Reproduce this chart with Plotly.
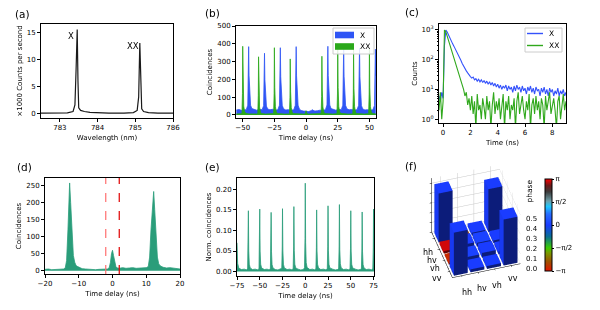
import math
import plotly.graph_objects as go

FONT = "DejaVu Sans"
W, H = 600, 310

# ---------------- (a) emission spectrum ----------------
a_wavelength = [782.5, 783.0, 783.2, 783.35, 783.40, 783.43, 783.46, 783.48, 783.50, 783.55,
                783.65, 783.8, 784.0, 784.3, 784.7, 784.95, 785.05, 785.09, 785.12, 785.14,
                785.17, 785.22, 785.35, 785.6, 786.0]
a_counts = [0.0, 0.0, 0.05, 0.3, 1.5, 8.0, 15.5, 6.0, 1.0, 0.5,
            0.3, 0.15, 0.05, 0.0, 0.0, 0.1, 0.5, 3.0, 13.0, 5.0,
            0.8, 0.3, 0.1, 0.0, 0.0]
a_labels = ["X", "XX"]
a_label_x = [783.3, 784.95]
a_label_y = [14.2, 12.4]

# ---------------- (b) correlation histograms ----------------
b_x_delay = [-55.0, -53.0, -51.0, -49.0,
             -47.2, -46.0, -45.6, -45.3, -45.0, -44.5, -43.8, -42.8,
             -41.0, -39.0, -37.0, -35.0,
             -34.7, -33.5, -33.1, -32.8, -32.5, -32.0, -31.3, -30.3,
             -28.5, -26.5, -24.0, -22.5,
             -22.2, -21.0, -20.6, -20.3, -20.0, -19.5, -18.8, -17.8,
             -16.0, -14.0, -12.0, -10.0,
             -9.7, -8.5, -8.1, -7.8, -7.5, -7.0, -6.3, -5.3,
             -4.0, -2.0, 0.0, 2.0, 4.0, 4.7, 5.5, 7.0, 9.0, 11.0, 13.0, 14.8,
             15.3, 16.5, 16.9, 17.2, 17.5, 18.0, 18.7, 19.7,
             21.5, 23.5, 25.5, 27.5,
             27.8, 29.0, 29.4, 29.7, 30.0, 30.5, 31.2, 32.2,
             34.0, 36.0, 38.0, 40.0,
             40.3, 41.5, 41.9, 42.2, 42.5, 43.0, 43.7, 44.7,
             46.5, 48.5, 50.5, 52.5,
             52.8, 54.0, 54.4, 54.7, 55.0]
b_x_coinc = [28, 31, 26, 30,
             30, 55, 160, 384, 220, 100, 55, 36,
             30, 27, 31, 28,
             30, 52, 150, 347, 200, 92, 50, 34,
             29, 32, 27, 30,
             31, 55, 160, 378, 215, 98, 54, 35,
             28, 30, 26, 29,
             30, 54, 160, 384, 220, 100, 55, 34,
             25, 22, 20, 19, 24, 30, 26, 22, 24, 27, 25, 27,
             30, 56, 165, 386, 222, 100, 56, 36,
             30, 27, 31, 28,
             30, 55, 160, 380, 218, 98, 54, 35,
             29, 31, 27, 30,
             31, 54, 158, 375, 215, 97, 53, 34,
             28, 30, 27, 29,
             30, 53, 155, 370, 220]
b_xx_delay = [-55.0, -53.0, -51.5,
              -50.6, -50.2, -50.0, -49.7, -49.2, -48.5, -47.5,
              -45.0, -42.0, -39.0,
              -38.1, -37.7, -37.5, -37.2, -36.7, -36.0, -35.0,
              -32.0, -29.0, -26.5,
              -25.6, -25.2, -25.0, -24.7, -24.2, -23.5, -22.5,
              -20.0, -17.0, -14.0,
              -13.1, -12.7, -12.5, -12.2, -11.7, -11.0, -10.0,
              -7.0, -4.0, -1.5,
              -0.5, 0.0, 0.5,
              2.0, 5.0, 8.0, 11.0,
              11.9, 12.3, 12.5, 12.8, 13.3, 14.0, 15.0,
              18.0, 21.0, 23.5,
              24.4, 24.8, 25.0, 25.3, 25.8, 26.5, 27.5,
              30.0, 33.0, 36.0,
              36.9, 37.3, 37.5, 37.8, 38.3, 39.0, 40.0,
              43.0, 46.0, 48.5,
              49.4, 49.8, 50.0, 50.3, 50.8, 51.5, 52.5,
              54.0, 55.0]
b_xx_coinc = [6, 5, 7,
              8, 120, 386, 160, 50, 18, 9,
              6, 5, 6,
              8, 110, 327, 140, 45, 16, 8,
              5, 6, 7,
              8, 120, 378, 155, 48, 17, 8,
              6, 5, 6,
              7, 100, 315, 130, 42, 15, 8,
              5, 6, 5,
              8, 24, 9,
              5, 6, 5, 6,
              8, 105, 330, 140, 45, 16, 8,
              6, 5, 7,
              8, 118, 375, 155, 48, 17, 9,
              6, 5, 6,
              8, 115, 365, 150, 47, 16, 8,
              6, 5, 7,
              8, 117, 372, 153, 47, 17, 8,
              6, 6]
b_legend = ["X", "XX"]

# ---------------- (c) lifetime traces ----------------
c_time = [-0.3, -0.2, -0.1, 0.0,
          0.1, 0.2, 0.3, 0.4, 0.5, 0.6, 0.7, 0.8, 0.9, 1.0,
          1.1, 1.2, 1.3, 1.4, 1.5, 1.6, 1.7, 1.8, 1.9, 2.0,
          2.1, 2.2, 2.3, 2.4, 2.5, 2.6, 2.7, 2.8, 2.9, 3.0,
          3.1, 3.2, 3.3, 3.4, 3.5, 3.6, 3.7, 3.8, 3.9, 4.0,
          4.1, 4.2, 4.3, 4.4, 4.5, 4.6, 4.7, 4.8, 4.9, 5.0,
          5.1, 5.2, 5.3, 5.4, 5.5, 5.6, 5.7, 5.8, 5.9, 6.0,
          6.1, 6.2, 6.3, 6.4, 6.5, 6.6, 6.7, 6.8, 6.9, 7.0,
          7.1, 7.2, 7.3, 7.4, 7.5, 7.6, 7.7, 7.8, 7.9, 8.0,
          8.1, 8.2, 8.3, 8.4, 8.5, 8.6, 8.7, 8.8, 8.9, 9.0]
c_x_counts = [6, 4, 8, 5,
              300, 1000, 850, 650, 520, 420, 340, 280, 230, 190,
              150, 120, 95, 75, 60, 50, 42, 36, 30, 27,
              24, 26, 21, 23, 19, 22, 18, 21, 17, 20,
              16, 19, 15, 18, 14, 17, 13, 16, 12, 15,
              11, 14, 10, 13, 11, 14, 9, 13, 10, 12,
              8, 13, 9, 14, 10, 12, 8, 13, 9, 11,
              7, 12, 9, 13, 8, 11, 7, 12, 9, 10,
              6, 11, 8, 12, 7, 10, 6, 11, 8, 10,
              6, 9, 7, 11, 6, 9, 7, 10, 6, 8]
c_xx_counts = [2, 8, 1, 4,
               1000, 850, 620, 440, 310, 220, 160, 115, 80, 58,
               40, 28, 20, 14, 10, 6, 8, 3, 5, 2,
               6, 1.5, 4, 0.5, 7, 2, 3, 1, 5, 2.5,
               1, 6, 2, 4, 0.5, 3, 8, 1.5, 4, 2,
               5, 1, 3, 7, 0.5, 4, 2, 6, 1, 3,
               2, 5, 0.5, 4, 8, 1.5, 3, 6, 2, 1,
               4, 2, 7, 0.5, 3, 5, 1.5, 6, 2, 4,
               1, 5, 3, 0.5, 6, 2, 4, 8, 1.5, 3,
               5, 2, 0.5, 4, 6, 1, 3, 7, 2, 4]
c_legend = ["X", "XX"]

# ---------------- (d) cross-correlation ----------------
d_delay = [-20, -19, -18, -17, -16, -15,
           -14.5, -14.0, -13.6, -13.2, -12.9, -12.7, -12.4, -12.0, -11.6, -11.2, -10.8, -10.3,
           -9.5, -9, -8, -7, -6, -5, -4, -3, -2,
           -1.5, -1.0, -0.6, -0.3, 0.0, 0.3, 0.6, 1.0, 1.4, 2.0,
           3, 4, 5, 6, 7, 8, 9, 10,
           10.6, 11.0, 11.4, 11.8, 12.0, 12.2, 12.5, 12.9, 13.3, 13.7, 14.2,
           15, 16, 17, 18, 19, 20]
d_coinc = [4, 5, 3, 4, 5, 4,
           5, 8, 30, 120, 210, 258, 200, 100, 45, 25, 15, 12,
           9, 6, 5, 4, 5, 3, 4, 4, 5,
           5, 8, 25, 50, 60, 45, 25, 12, 8, 7,
           9, 7, 8, 9, 7, 8, 7, 9,
           12, 40, 120, 190, 225, 233, 180, 90, 40, 20, 14,
           10, 8, 9, 7, 6, 5]
d_window = [-2, 2]
d_window_colors = ["#ff6f6f", "#e00000"]

# ---------------- (e) normalized coincidences ----------------
e_delay = [-75.0, -74.3, -73, -70, -67, -64.5,
           -63.3, -62.8, -62.5, -62.1, -61.5, -60.5, -58, -55, -52,
           -50.8, -50.3, -50.0, -49.6, -49.0, -48.0, -45, -42, -39.5,
           -38.3, -37.8, -37.5, -37.1, -36.5, -35.5, -33, -30, -27,
           -25.8, -25.3, -25.0, -24.6, -24.0, -23.0, -20, -17, -14.5,
           -13.3, -12.8, -12.5, -12.1, -11.5, -10.5, -8, -5, -2,
           -0.8, -0.3, 0.0, 0.4, 1.0, 2.0, 5, 8, 10.5,
           11.7, 12.2, 12.5, 12.9, 13.5, 14.5, 17, 20, 23,
           24.2, 24.7, 25.0, 25.4, 26.0, 27.0, 30, 33, 35.5,
           36.7, 37.2, 37.5, 37.9, 38.5, 39.5, 42, 45, 48,
           49.2, 49.7, 50.0, 50.4, 51.0, 52.0, 55, 58, 60.5,
           61.7, 62.2, 62.5, 62.9, 63.5, 64.5, 67, 70, 73,
           74.2, 74.7, 75.0, 75.5]
e_norm = [0.07, 0.02, 0.008, 0.005, 0.006, 0.004,
          0.008, 0.06, 0.148, 0.05, 0.018, 0.009, 0.005, 0.006, 0.004,
          0.008, 0.06, 0.152, 0.05, 0.018, 0.009, 0.005, 0.006, 0.004,
          0.008, 0.055, 0.144, 0.048, 0.017, 0.009, 0.005, 0.004, 0.006,
          0.008, 0.06, 0.153, 0.05, 0.018, 0.009, 0.005, 0.006, 0.004,
          0.008, 0.06, 0.158, 0.052, 0.018, 0.009, 0.006, 0.004, 0.005,
          0.01, 0.08, 0.215, 0.07, 0.022, 0.01, 0.005, 0.006, 0.004,
          0.008, 0.058, 0.150, 0.05, 0.018, 0.009, 0.005, 0.006, 0.004,
          0.008, 0.062, 0.160, 0.052, 0.018, 0.009, 0.006, 0.004, 0.005,
          0.008, 0.062, 0.163, 0.053, 0.019, 0.009, 0.005, 0.006, 0.004,
          0.008, 0.057, 0.148, 0.05, 0.018, 0.009, 0.006, 0.004, 0.005,
          0.008, 0.055, 0.145, 0.048, 0.017, 0.009, 0.005, 0.006, 0.004,
          0.008, 0.058, 0.152, 0.05]

# ---------------- (f) density matrix ----------------
f_basis = ["hh", "hv", "vh", "vv"]
f_abs = [[0.50, 0.03, 0.03, 0.44],
         [0.025, 0.05, 0.04, 0.03],
         [0.015, 0.04, 0.05, 0.03],
         [0.44, 0.03, 0.03, 0.47]]
f_phase = [[0.0, -2.6, 0.0, 0.0],
           [3.0, 0.0, 0.1, 0.0],
           [-2.9, 0.1, 0.0, 0.0],
           [0.0, 0.0, 0.0, 0.0]]
f_zticks = [0.0, 0.1, 0.2, 0.3, 0.4, 0.5]

BLUE = "#2f55f5"
GREEN = "#2aa81a"
TEAL = "#2a9d7a"
LBLUE = "#3452fb"
LGREEN = "#30a81c"

phase_stops = [(0.00, (228, 20, 0)), (0.10, (160, 80, 0)), (0.20, (120, 155, 0)),
               (0.25, (60, 205, 0)), (0.375, (10, 110, 150)), (0.50, (26, 60, 255)),
               (0.62, (40, 110, 255)), (0.70, (30, 200, 255)), (0.76, (110, 160, 170)),
               (0.86, (60, 60, 60)), (0.93, (110, 25, 25)), (1.00, (255, 0, 0))]
phase_scale = [[s, "rgb(%d,%d,%d)" % c] for s, c in phase_stops]


def phase_rgb(ph, shade):
    f = (ph + math.pi) / (2 * math.pi)
    f = min(max(f, 0.0), 1.0)
    c = phase_stops[-1][1]
    for (s0, c0), (s1, c1) in zip(phase_stops[:-1], phase_stops[1:]):
        if s0 <= f <= s1:
            t = (f - s0) / (s1 - s0) if s1 > s0 else 0
            c = [c0[k] + t * (c1[k] - c0[k]) for k in range(3)]
            break
    return "rgb(%d,%d,%d)" % tuple(int(v * shade) for v in c)


def axis(domain, anchor, **kw):
    d = dict(domain=domain, anchor=anchor, showline=True, mirror=True, linecolor="black",
             linewidth=1, ticks="outside", ticklen=3, tickwidth=1, tickcolor="black",
             showgrid=False, zeroline=False, automargin=False,
             tickfont=dict(size=7, color="black", family=FONT))
    d.update(kw)
    return d


def xd(px0, px1):
    return [px0 / W, px1 / W]


def yd(py_top, py_bot):
    return [1 - py_bot / H, 1 - py_top / H]


def ttl(text):
    return dict(text=text, font=dict(size=7, color="black", family=FONT), standoff=3)


def px_x(v):
    return v / W


def px_y(v):
    return 1 - v / H


fig = go.Figure()

# (a)
fig.add_trace(go.Scatter(x=a_wavelength, y=a_counts, mode="lines", line=dict(color="#1a1a1a", width=1.2),
                         xaxis="x", yaxis="y", showlegend=False))
# (b)
fig.add_trace(go.Scatter(x=b_x_delay, y=b_x_coinc, mode="lines", fill="tozeroy", fillcolor=BLUE,
                         line=dict(color=BLUE, width=0.8), name=b_legend[0], xaxis="x2", yaxis="y2",
                         showlegend=False))
fig.add_trace(go.Scatter(x=b_xx_delay, y=b_xx_coinc, mode="lines", fill="tozeroy", fillcolor=GREEN,
                         line=dict(color=GREEN, width=0.8), name=b_legend[1], xaxis="x2", yaxis="y2",
                         showlegend=False))
# (c)
fig.add_trace(go.Scatter(x=c_time, y=c_x_counts, mode="lines", line=dict(color=LBLUE, width=1.1),
                         name=c_legend[0], xaxis="x3", yaxis="y3", showlegend=False))
fig.add_trace(go.Scatter(x=c_time, y=c_xx_counts, mode="lines", line=dict(color=LGREEN, width=1.1),
                         name=c_legend[1], xaxis="x3", yaxis="y3", showlegend=False))
# (d)
fig.add_trace(go.Scatter(x=d_delay, y=d_coinc, mode="lines", fill="tozeroy", fillcolor=TEAL,
                         line=dict(color=TEAL, width=0.8), xaxis="x4", yaxis="y4", showlegend=False))
# (e)
fig.add_trace(go.Scatter(x=e_delay, y=e_norm, mode="lines", fill="tozeroy", fillcolor=TEAL,
                         line=dict(color=TEAL, width=0.8), xaxis="x5", yaxis="y5", showlegend=False))

# (f) 3D bars
vx, vy, vz, ii, jj, kk, fc = [], [], [], [], [], [], []
hw = 0.42
for r in range(4):
    for c in range(4):
        h = f_abs[r][c]
        ph = f_phase[r][c]
        x0, x1 = c - hw, c + hw
        yc = 3 - r
        y0, y1 = yc - hw, yc + hw
        b = len(vx)
        pts = [(x0, y0, 0), (x1, y0, 0), (x1, y1, 0), (x0, y1, 0),
               (x0, y0, h), (x1, y0, h), (x1, y1, h), (x0, y1, h)]
        for p in pts:
            vx.append(p[0]); vy.append(p[1]); vz.append(p[2])
        faces = [((0, 1, 2), 0.5), ((0, 2, 3), 0.5),
                 ((4, 5, 6), 1.0), ((4, 6, 7), 1.0),
                 ((0, 1, 5), 0.48), ((0, 5, 4), 0.48),
                 ((3, 2, 6), 0.6), ((3, 6, 7), 0.6),
                 ((0, 3, 7), 0.95), ((0, 7, 4), 0.95),
                 ((1, 2, 6), 0.6), ((1, 6, 5), 0.6)]
        for (a, bb, cc), s in faces:
            ii.append(b + a); jj.append(b + bb); kk.append(b + cc)
            fc.append(phase_rgb(ph, s))

fig.add_trace(go.Mesh3d(x=vx, y=vy, z=vz, i=ii, j=jj, k=kk, facecolor=fc, flatshading=True,
                        lighting=dict(ambient=1.0, diffuse=0.0, specular=0.0, roughness=1.0, fresnel=0.0),
                        hoverinfo="skip", showscale=False, scene="scene"))
fig.add_trace(go.Scatter3d(x=[0], y=[3], z=[0.2], mode="markers", scene="scene", showlegend=False,
                           hoverinfo="skip",
                           marker=dict(size=1, color=[0], colorscale=phase_scale, cmin=-math.pi, cmax=math.pi,
                                       showscale=True,
                                       colorbar=dict(x=545 / W, xanchor="left", y=1 - 225 / H, yanchor="middle",
                                                     len=92 / H, lenmode="fraction", thickness=7,
                                                     xpad=0, ypad=0,
                                                     outlinewidth=1, outlinecolor="black",
                                                     tickvals=[-math.pi, -math.pi / 2, 0, math.pi / 2, math.pi],
                                                     ticktext=["−π", "−π/2", "0", "π/2", "π"],
                                                     ticks="outside", ticklen=2, tickcolor="black",
                                                     tickfont=dict(size=7, color="black", family=FONT)))))

scene_ax = dict(showbackground=False, gridcolor="#c8c8c8", gridwidth=1, showline=True, linecolor="black",
                ticks="outside", ticklen=2, tickcolor="black", zeroline=False, showspikes=False,
                showticklabels=False, title=dict(text=""))

th, ph_el, dist = math.radians(17), math.radians(42), 2.05
eye = dict(x=-dist * math.cos(ph_el) * math.sin(th), y=-dist * math.cos(ph_el) * math.cos(th),
           z=dist * math.sin(ph_el))
box_scale = 1.03

layout = dict(
    width=W, height=H, margin=dict(l=0, r=0, t=0, b=0, autoexpand=False),
    paper_bgcolor="white", plot_bgcolor="white",
    font=dict(family=FONT, size=7, color="black"),
    xaxis=axis(xd(41, 173), "y", range=[782.5, 786], tickvals=[783, 784, 785, 786], title=ttl("Wavelength (nm)")),
    yaxis=axis(yd(24, 118), "x", range=[-0.9, 16.5], tickvals=[0, 5, 10, 15], title=ttl("×1000 Counts per second")),
    xaxis2=axis(xd(236, 376), "y2", range=[-55.3, 55.2], tickvals=[-50, -25, 0, 25, 50], title=ttl("Time delay (ns)")),
    yaxis2=axis(yd(26, 118), "x2", range=[-17, 500], tickvals=[0, 100, 200, 300, 400, 500], title=ttl("Coincidences")),
    xaxis3=axis(xd(439, 566), "y3", range=[-0.3, 9.0], tickvals=[0, 2, 4, 6, 8], title=ttl("Time (ns)")),
    yaxis3=axis(yd(24, 123), "x3", type="log", range=[-0.13, 3.2], tickvals=[1, 10, 100, 1000],
                ticktext=["10<sup>0</sup>", "10<sup>1</sup>", "10<sup>2</sup>", "10<sup>3</sup>"],
                minor=dict(ticks="outside", ticklen=1.5, tickcolor="black",
                           tickvals=[2, 3, 4, 5, 6, 7, 8, 9, 20, 30, 40, 50, 60, 70, 80, 90,
                                     200, 300, 400, 500, 600, 700, 800, 900]),
                title=ttl("Counts")),
    xaxis4=axis(xd(45, 180), "y4", range=[-20, 20], tickvals=[-20, -10, 0, 10, 20], title=ttl("Time delay (ns)")),
    yaxis4=axis(yd(178, 274), "x4", range=[-9.7, 272.6], tickvals=[0, 50, 100, 150, 200, 250], title=ttl("Coincidences")),
    xaxis5=axis(xd(237, 374), "y5", range=[-75, 75.5], tickvals=[-75, -50, -25, 0, 25, 50, 75], title=ttl("Time delay (ns)")),
    yaxis5=axis(yd(178, 276), "x5", range=[-0.0107, 0.2276], tickvals=[0, 0.05, 0.1, 0.15, 0.2], tickformat=".2f",
                title=ttl("Norm. coincidences")),
    scene=dict(domain=dict(x=[413 / W, 539 / W], y=[1 - 290 / H, 1 - 152 / H]),
               xaxis=dict(scene_ax, tickvals=[0, 1, 2, 3], range=[-0.55, 3.55]),
               yaxis=dict(scene_ax, tickvals=[3, 2, 1, 0], range=[-0.55, 3.55]),
               zaxis=dict(scene_ax, tickvals=f_zticks, range=[0, 0.55]),
               aspectmode="manual",
               aspectratio=dict(x=box_scale, y=box_scale, z=1.02 * box_scale),
               camera=dict(eye=eye, center=dict(x=0, y=0, z=0), projection=dict(type="orthographic"))),
    showlegend=False,
)
fig.update_layout(**layout)

annots = []
shapes = []
for lbl, px, py in [("(a)", 13, 14), ("(b)", 203, 13), ("(c)", 403, 12),
                    ("(d)", 15, 167), ("(e)", 203, 167), ("(f)", 403, 166)]:
    annots.append(dict(text=lbl, x=px_x(px), y=px_y(py), xref="paper", yref="paper", xanchor="left",
                       yanchor="middle", showarrow=False, font=dict(size=10.5, family=FONT, color="black")))
for t, x, y in zip(a_labels, a_label_x, a_label_y):
    annots.append(dict(text=t, x=x, y=y, xref="x", yref="y", showarrow=False, xanchor="center",
                       yanchor="middle", font=dict(size=8.5, family=FONT, color="black")))
annots.append(dict(text="phase", x=px_x(535), y=px_y(191), xref="paper", yref="paper", textangle=-90,
                   showarrow=False, font=dict(size=7.5, family=FONT, color="black")))

# legend (b): filled patches
shapes.append(dict(type="rect", xref="paper", yref="paper", x0=px_x(333), x1=px_x(374), y0=px_y(54), y1=px_y(28),
                   fillcolor="rgba(255,255,255,0.85)", line=dict(color="#cccccc", width=1), layer="above"))
for name, col, py in zip(b_legend, [BLUE, GREEN], [35, 46.5]):
    shapes.append(dict(type="rect", xref="paper", yref="paper", x0=px_x(335), x1=px_x(354),
                       y0=px_y(py + 3.3), y1=px_y(py - 3.3), fillcolor=col, line=dict(width=0), layer="above"))
    annots.append(dict(text=name, x=px_x(358), y=px_y(py), xref="paper", yref="paper", xanchor="left",
                       yanchor="middle", showarrow=False, font=dict(size=7.5, family=FONT, color="black")))
# legend (c): lines
shapes.append(dict(type="rect", xref="paper", yref="paper", x0=px_x(525), x1=px_x(562), y0=px_y(52), y1=px_y(28),
                   fillcolor="rgba(255,255,255,0.85)", line=dict(color="#cccccc", width=1), layer="above"))
for name, col, py in zip(c_legend, [LBLUE, LGREEN], [33.5, 45.5]):
    shapes.append(dict(type="line", xref="paper", yref="paper", x0=px_x(527), x1=px_x(543),
                       y0=px_y(py), y1=px_y(py), line=dict(color=col, width=1.4), layer="above"))
    annots.append(dict(text=name, x=px_x(547), y=px_y(py), xref="paper", yref="paper", xanchor="left",
                       yanchor="middle", showarrow=False, font=dict(size=7.5, family=FONT, color="black")))

# (f) tick labels placed as in the reference view
for name, px, py in zip(f_basis, [428, 432, 435, 437], [252, 260, 268, 278]):
    annots.append(dict(text=name, x=px_x(px), y=px_y(py), xref="paper", yref="paper", showarrow=False,
                       xanchor="center", yanchor="middle", font=dict(size=8, family=FONT, color="black")))
for name, px, py in zip(f_basis, [467, 482, 497, 513], [292, 288, 285, 278]):
    annots.append(dict(text=name, x=px_x(px), y=px_y(py), xref="paper", yref="paper", showarrow=False,
                       xanchor="center", yanchor="middle", font=dict(size=8, family=FONT, color="black")))
for v, py in zip(f_zticks, [268.5, 258.5, 248.5, 238.5, 228.5, 218.5]):
    annots.append(dict(text="%.1f" % v, x=px_x(524), y=px_y(py), xref="paper", yref="paper", showarrow=False,
                       xanchor="left", yanchor="middle", font=dict(size=7, family=FONT, color="black")))

for xv, col in zip(d_window, d_window_colors):
    shapes.append(dict(type="line", x0=xv, x1=xv, y0=0, y1=1, xref="x4", yref="y4 domain",
                       line=dict(color=col, width=1.2, dash="dash")))

fig.update_layout(annotations=annots, shapes=shapes)

fig.write_html("out.html", config={"displayModeBar": False},
               post_script="document.body.style.margin='0px';")
